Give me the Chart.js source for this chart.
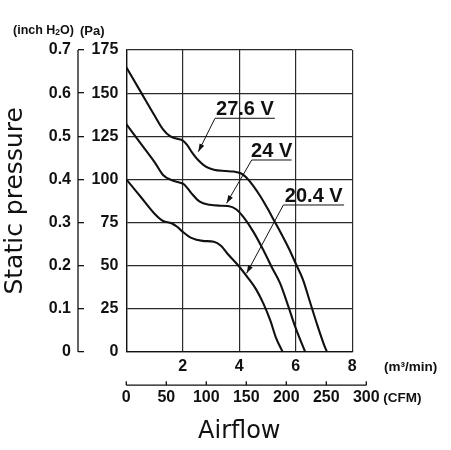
<!DOCTYPE html>
<html>
<head>
<meta charset="utf-8">
<title>Fan static pressure vs airflow</title>
<script src="https://cdn.jsdelivr.net/npm/chart.js@4.4.1/dist/chart.umd.min.js"></script>
<style>
    html, body { margin: 0; padding: 0; background: #fff; }
    canvas { display: block; }
</style>
</head>
<body>
<canvas id="fanChart" width="451" height="450"></canvas>
<script>
// ======================================
// Data
// ======================================
const flow276 = [0, 0.5, 1.0, 1.3, 1.55, 1.8, 2.0, 2.15, 2.35, 2.55, 2.8, 3.1, 3.5, 3.8, 4.05, 4.25, 4.5, 4.75, 5.0, 5.25, 5.5, 5.75, 6.0, 6.25, 6.5, 6.75, 7.0, 7.1];
const pres276 = [165, 151, 137, 129, 125, 123.5, 122.5, 120, 115, 111, 107.5, 105.5, 104.8, 104.5, 103.5, 101, 96, 90, 83, 75.5, 68, 60, 51, 42, 29, 16, 4, 0];

const flow24 = [0, 0.5, 1.0, 1.3, 1.6, 1.85, 2.05, 2.3, 2.6, 2.95, 3.3, 3.6, 3.9, 4.15, 4.5, 4.85, 5.15, 5.45, 5.7, 6.0, 6.33];
const pres24 = [132, 121, 110, 102.5, 99.5, 98.3, 97, 92, 87, 85.2, 84.7, 84.5, 82.5, 78, 69.5, 59, 49, 39.5, 28, 13.5, 0];

const flow204 = [0, 0.5, 1.0, 1.3, 1.6, 1.8, 2.0, 2.3, 2.7, 3.1, 3.35, 3.6, 4.0, 4.3, 4.6, 4.85, 5.1, 5.3, 5.53];
const pres204 = [100, 90, 80, 75.8, 74.5, 72.5, 69.5, 66, 64.3, 63.8, 61.5, 56.5, 49.3, 43, 36, 28, 18, 8, 0];

const voltLabels = ['27.6 V', '24 V', '20.4 V'];

const cfmTicks = [0, 50, 100, 150, 200, 250, 300];
const CFM_PER_M3MIN = 35.31;

// ======================================
// Styles
// ======================================
const INK = '#111';
const GRID = '#2a2a2a';
const BOLD = "'Liberation Sans', Arial, sans-serif";
const PLAIN = "'DejaVu Sans', Verdana, sans-serif";

function toPoints(xs, ys) {
    return xs.map((x, i) => ({ x: x, y: ys[i] }));
}

// callouts: underline from x0..x1 at y, arrow from (x0, y) to tip
const callouts = [
    { text: voltLabels[0], x0: 3.14, x1: 5.26, y: 135.4, tipX: 2.55, tipY: 116 },
    { text: voltLabels[1], x0: 4.44, x1: 5.85, y: 111.2, tipX: 3.55, tipY: 86.1 },
    { text: voltLabels[2], x0: 5.56, x1: 7.71, y: 85.1, tipX: 4.26, tipY: 45.5 }
];

// ======================================
// Extra drawing: inch axis line, CFM axis, units, callouts
// ======================================
const extrasPlugin = {
    id: 'extras',
    afterDraw(chart) {
        const ctx = chart.ctx;
        const x = chart.scales.x;
        const y = chart.scales.y;
        const y2 = chart.scales.y2;
        ctx.save();

        // inch H2O axis spine (ticks point right toward the plot)
        const spineX = y2.right - 6;
        ctx.strokeStyle = INK;
        ctx.lineWidth = 1.3;
        ctx.beginPath();
        ctx.moveTo(spineX, y2.getPixelForValue(0));
        ctx.lineTo(spineX, y2.getPixelForValue(0.7));
        ctx.stroke();

        // units at top
        ctx.fillStyle = INK;
        ctx.textBaseline = 'middle';
        ctx.textAlign = 'left';
        ctx.font = 'bold 12.5px ' + BOLD;
        let tx = 13;
        const ty = 31;
        ctx.fillText('(inch H', tx, ty);
        tx += ctx.measureText('(inch H').width;
        ctx.font = 'bold 8.5px ' + BOLD;
        ctx.fillText('2', tx, ty + 2);
        tx += ctx.measureText('2').width;
        ctx.font = 'bold 12.5px ' + BOLD;
        ctx.fillText('O)', tx, ty);
        ctx.font = 'bold 13px ' + BOLD;
        ctx.fillText('(Pa)', 80, ty);

        // m3/min unit
        ctx.font = 'bold 13.5px ' + BOLD;
        ctx.fillText('(m\u00B3/min)', 384, 367);

        // CFM axis
        const cfmY = x.top + 33.5;
        const cfmPx = v => x.getPixelForValue(v / CFM_PER_M3MIN);
        ctx.beginPath();
        ctx.moveTo(cfmPx(cfmTicks[0]), cfmY);
        ctx.lineTo(cfmPx(cfmTicks[cfmTicks.length - 1]), cfmY);
        cfmTicks.forEach(v => {
            ctx.moveTo(cfmPx(v), cfmY);
            ctx.lineTo(cfmPx(v), cfmY - 4);
        });
        ctx.stroke();
        ctx.font = 'bold 16px ' + BOLD;
        ctx.textAlign = 'center';
        cfmTicks.forEach(v => ctx.fillText(String(v), cfmPx(v), cfmY + 12));
        ctx.font = 'bold 13.5px ' + BOLD;
        ctx.textAlign = 'left';
        ctx.fillText('(CFM)', cfmPx(300) + 17, cfmY + 13);

        // voltage callouts
        callouts.forEach(c => {
            const lx0 = x.getPixelForValue(c.x0);
            const lx1 = x.getPixelForValue(c.x1);
            const ly = y.getPixelForValue(c.y);
            const px = x.getPixelForValue(c.tipX);
            const py = y.getPixelForValue(c.tipY);

            ctx.lineWidth = 1;
            ctx.beginPath();
            ctx.moveTo(lx1, ly);
            ctx.lineTo(lx0, ly);
            ctx.lineTo(px, py);
            ctx.stroke();

            const ang = Math.atan2(py - ly, px - lx0);
            const len = 8, half = 2.6;
            ctx.beginPath();
            ctx.moveTo(px, py);
            ctx.lineTo(px - len * Math.cos(ang) + half * Math.sin(ang), py - len * Math.sin(ang) - half * Math.cos(ang));
            ctx.lineTo(px - len * Math.cos(ang) - half * Math.sin(ang), py - len * Math.sin(ang) + half * Math.cos(ang));
            ctx.closePath();
            ctx.fill();

            ctx.font = 'bold 20px ' + BOLD;
            ctx.textAlign = 'center';
            ctx.textBaseline = 'alphabetic';
            ctx.fillText(c.text, (lx0 + lx1) / 2, ly - 3);
        });

        ctx.restore();
    }
};

// ======================================
// Chart
// ======================================
function lineSet(label, xs, ys) {
    return {
        label: label,
        data: toPoints(xs, ys),
        borderColor: INK,
        borderWidth: 2.1,
        pointRadius: 0,
        fill: false,
        cubicInterpolationMode: 'monotone',
        xAxisID: 'x',
        yAxisID: 'y'
    };
}

new Chart(document.getElementById('fanChart'), {
    type: 'line',
    data: {
        datasets: [
            lineSet(voltLabels[0], flow276, pres276),
            lineSet(voltLabels[1], flow24, pres24),
            lineSet(voltLabels[2], flow204, pres204)
        ]
    },
    options: {
        responsive: false,
        animation: false,
        devicePixelRatio: 1,
        layout: {
            padding: { left: 0, top: 50, right: 98.7, bottom: 0 }
        },
        plugins: {
            legend: { display: false },
            tooltip: { enabled: false }
        },
        scales: {
            x: {
                type: 'linear',
                position: 'bottom',
                min: 0,
                max: 8,
                ticks: {
                    stepSize: 2,
                    color: INK,
                    padding: 5,
                    font: { family: BOLD, size: 16, weight: 'bold' },
                    callback: v => (v === 0 ? '' : v)
                },
                grid: { color: GRID, lineWidth: 1.2, drawTicks: false },
                border: { display: true, color: INK, width: 1.3 },
                title: {
                    display: true,
                    text: 'Airflow',
                    color: INK,
                    font: { family: PLAIN, size: 24 },
                    padding: { top: 0, bottom: 4 }
                },
                afterFit: s => { s.height = 98.3; }
            },
            y: {
                type: 'linear',
                position: 'left',
                weight: 0,
                min: 0,
                max: 175,
                ticks: {
                    stepSize: 25,
                    color: INK,
                    padding: 8,
                    font: { family: BOLD, size: 16, weight: 'bold' }
                },
                grid: { color: GRID, lineWidth: 1.2, drawTicks: false },
                border: { display: true, color: INK, width: 1.3 },
                afterFit: s => { s.width = 42.3; }
            },
            y2: {
                type: 'linear',
                position: 'left',
                weight: 1,
                min: 0,
                max: 0.7,
                ticks: {
                    stepSize: 0.1,
                    color: INK,
                    padding: 7,
                    font: { family: BOLD, size: 16, weight: 'bold' },
                    callback: v => (Math.abs(v) < 1e-9 ? '0' : v.toFixed(1))
                },
                grid: { drawOnChartArea: false, drawTicks: true, tickLength: 6, color: INK, lineWidth: 1.3 },
                border: { display: false },
                title: {
                    display: true,
                    text: 'Static pressure',
                    color: INK,
                    font: { family: PLAIN, size: 25 },
                    padding: { top: 0, bottom: 0 }
                },
                afterFit: s => { s.width = 84; }
            }
        }
    },
    plugins: [extrasPlugin]
});
</script>
</body>
</html>
